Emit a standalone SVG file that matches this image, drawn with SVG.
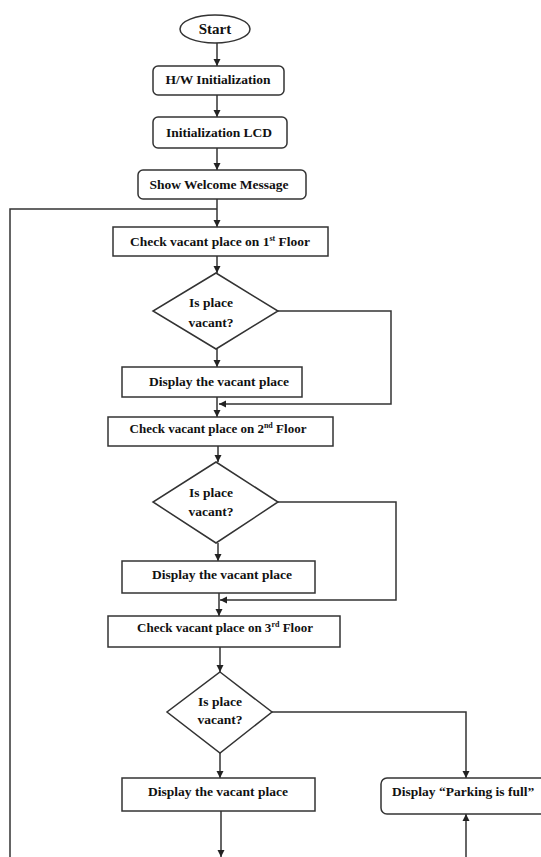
<svg xmlns="http://www.w3.org/2000/svg" width="541" height="857" viewBox="0 0 541 857">
<style>
.box{fill:#fff;stroke:#333;stroke-width:1.5}
.ln{fill:none;stroke:#333;stroke-width:1.5}
.arr{marker-end:url(#ah)}
text{font-family:"Liberation Serif","Times New Roman",serif;font-weight:bold;font-size:13.5px;fill:#111;text-anchor:middle}
.sup{font-size:8px}
</style>
<defs>
<marker id="ah" markerUnits="userSpaceOnUse" markerWidth="8" markerHeight="8" refX="7" refY="4" orient="auto">
<path d="M0,0.5 L7,4 L0,7.5 z" fill="#222"/>
</marker>
</defs>
<rect width="541" height="857" fill="#fff"/>
<g id="connectors">
<line class="ln arr" x1="217" y1="43" x2="217" y2="66"/>
<line class="ln arr" x1="217" y1="95" x2="217" y2="117"/>
<line class="ln arr" x1="217" y1="148" x2="217" y2="170"/>
<line class="ln arr" x1="217" y1="199" x2="217" y2="227"/>
<polyline class="ln" points="217,209 10,209 10,857"/>
<line class="ln arr" x1="217" y1="256" x2="217" y2="273"/>
<line class="ln arr" x1="217" y1="349" x2="217" y2="367"/>
<line class="ln arr" x1="217" y1="397" x2="217" y2="417"/>
<polyline class="ln arr" points="278,311 391,311 391,404 219,404"/>
<line class="ln arr" x1="218" y1="446" x2="218" y2="462"/>
<line class="ln arr" x1="218" y1="543" x2="218" y2="561"/>
<line class="ln arr" x1="219" y1="593" x2="219" y2="616"/>
<polyline class="ln arr" points="278,502 396,502 396,600 220,600"/>
<line class="ln arr" x1="220" y1="647" x2="220" y2="672"/>
<line class="ln arr" x1="220" y1="753" x2="220" y2="778"/>
<line class="ln arr" x1="221" y1="811" x2="221" y2="857"/>
<polyline class="ln arr" points="272,712 466,712 466,778"/>
<line class="ln arr" x1="466" y1="857" x2="466" y2="814"/>
</g>
<g id="start">
<ellipse class="box" cx="215" cy="29" rx="35" ry="14"/>
<text x="215" y="34" style="font-size:15px">Start</text>
</g>
<g id="hw-init">
<rect class="box" x="153" y="66" width="131" height="29" rx="5"/>
<text x="218" y="84">H/W Initialization</text>
</g>
<g id="lcd-init">
<rect class="box" x="153" y="117" width="134" height="31" rx="5"/>
<text x="219" y="137">Initialization LCD</text>
</g>
<g id="welcome">
<rect class="box" x="138" y="170" width="168" height="29" rx="5"/>
<text x="219" y="189">Show Welcome Message</text>
</g>
<g id="check1">
<rect class="box" x="113" y="227" width="215" height="29"/>
<text x="220" y="246">Check vacant place on 1<tspan class="sup" dy="-5">st</tspan><tspan dy="5"> Floor</tspan></text>
</g>
<g id="decision1">
<polygon class="box" points="216,273 278,311 216,349 153,311"/>
<text x="211" y="307">Is place</text>
<text x="211" y="327">vacant?</text>
</g>
<g id="display1">
<rect class="box" x="122" y="367" width="180" height="30"/>
<text x="219" y="386">Display the vacant place</text>
</g>
<g id="check2">
<rect class="box" x="108" y="417" width="225" height="29"/>
<text x="218" y="433" style="font-size:13px">Check vacant place on 2<tspan class="sup" dy="-5">nd</tspan><tspan dy="5"> Floor</tspan></text>
</g>
<g id="decision2">
<polygon class="box" points="216,462 278,502 216,543 153,502"/>
<text x="211" y="497">Is place</text>
<text x="211" y="516">vacant?</text>
</g>
<g id="display2">
<rect class="box" x="122" y="561" width="193" height="32"/>
<text x="222" y="579">Display the vacant place</text>
</g>
<g id="check3">
<rect class="box" x="108" y="616" width="232" height="31"/>
<text x="225" y="632" style="font-size:13px">Check vacant place on 3<tspan class="sup" dy="-5">rd</tspan><tspan dy="5"> Floor</tspan></text>
</g>
<g id="decision3">
<polygon class="box" points="220,672 272,712 220,753 167,712"/>
<text x="220" y="706">Is place</text>
<text x="220" y="724">vacant?</text>
</g>
<g id="display3">
<rect class="box" x="122" y="778" width="193" height="33"/>
<text x="218" y="796">Display the vacant place</text>
</g>
<g id="parking-full">
<rect class="box" x="381" y="778" width="170" height="36" rx="6"/>
<text x="392" y="796" style="text-anchor:start">Display “Parking is full”</text>
</g>
</svg>
